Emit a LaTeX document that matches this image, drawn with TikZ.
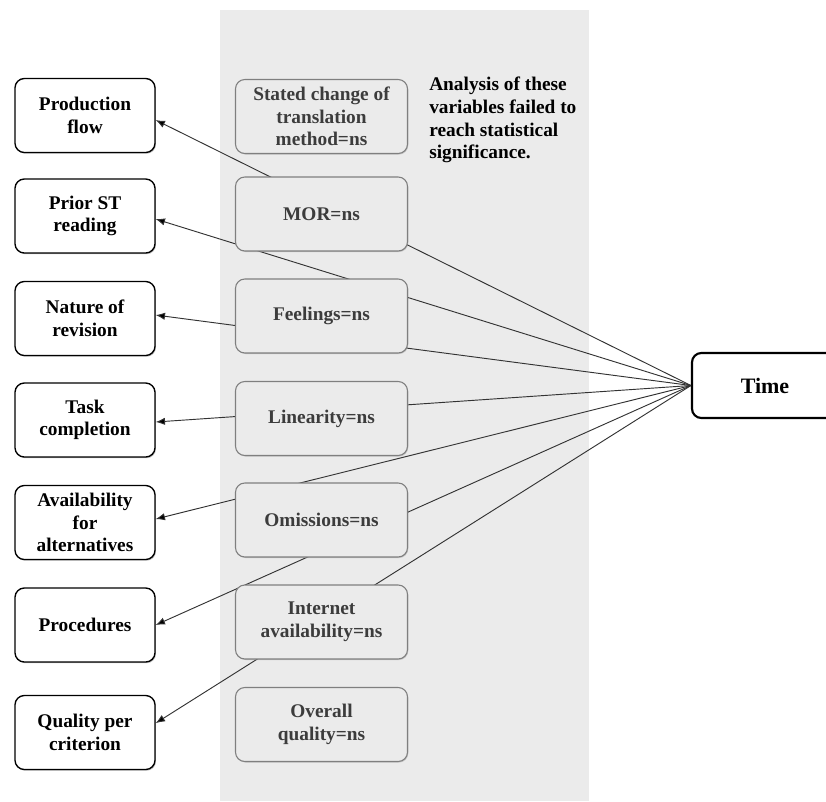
\documentclass[tikz,border=0pt]{standalone}
\usepackage{fontspec}
\setmainfont{Liberation Serif}
\usepackage{tikz}
\usetikzlibrary{arrows.meta,shadows}

\definecolor{panelgray}{HTML}{EBEBEB}
\definecolor{nsline}{HTML}{7F7F7F}
\definecolor{nstext}{HTML}{3C3C3C}

\begin{document}
\begin{tikzpicture}[x=0.75pt,y=-0.75pt,>=Latex,
    font=\fontsize{14.5}{17}\selectfont\bfseries,
    outbox/.style={draw,line width=1pt,rounded corners=7pt,fill=white,align=center,
      minimum width=105pt,minimum height=55.5pt,inner sep=1pt,
      drop shadow={shadow xshift=0.7pt,shadow yshift=-0.9pt,fill=black!60,opacity=.45}},
    nsbox/.style={draw=nsline,line width=0.8pt,rounded corners=7pt,fill=panelgray,
      text=nstext,align=center,minimum width=129pt,minimum height=55.5pt,inner sep=1pt,
      drop shadow={shadow xshift=0.6pt,shadow yshift=-0.8pt,fill=black!50,opacity=.35}},
    conn/.style={draw=black!80,line width=0.7pt,
      arrows={-Latex[length=7pt,width=5.5pt,fill=black]}}]
  \useasboundingbox (0,0) rectangle (826,801);
  % grey band behind the non-significant variables
  \fill[panelgray] (220,10) rectangle (589,801);

  \node[outbox] (prod)  at (85,115.5) {Production\\flow};
  \node[outbox] (prior) at (85,216)   {Prior ST\\reading};
  \node[outbox] (natre) at (85,318.5) {Nature of\\revision};
  \node[outbox] (task)  at (85,420)   {Task\\completion};
  \node[outbox] (avail) at (85,522.5) {Availability\\for\\alternatives};
  \node[outbox] (proc)  at (85,625)   {Procedures};
  \node[outbox] (qual)  at (85,732.5) {Quality per\\criterion};

  \node[draw,line width=1.6pt,rounded corners=7pt,fill=white,
        minimum width=109.5pt,minimum height=48.75pt,
        font=\fontsize{16.5}{19}\selectfont\bfseries] (time) at (765,385.5) {Time};

  \foreach \n/\dy in {prod/-3.4,prior/-2.3,natre/2.6,task/-1.5,avail/2.6,proc/0,qual/7}
  {
    \draw[conn] (time.west) -- ([yshift=\dy pt]\n.east);
  }

  \node[nsbox] (stated) at (321.5,116.5) {Stated change of\\translation\\method=ns};
  \node[nsbox] (mor)    at (321.5,214)   {MOR=ns};
  \node[nsbox] (feel)   at (321.5,316)   {Feelings=ns};
  \node[nsbox] (lin)    at (321.5,418.5) {Linearity=ns};
  \node[nsbox] (omis)   at (321.5,520)   {Omissions=ns};
  \node[nsbox] (inet)   at (321.5,622)   {Internet\\availability=ns};
  \node[nsbox] (overq)  at (321.5,724.5) {Overall\\quality=ns};

  \node[align=left,anchor=north west,inner sep=0pt] (note) at (429,77)
       {Analysis of these\\variables failed to\\reach statistical\\significance.};
\end{tikzpicture}
\end{document}
